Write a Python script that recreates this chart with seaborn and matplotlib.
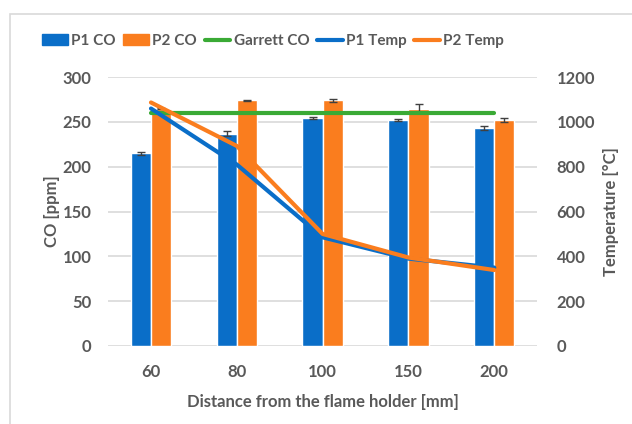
import numpy as np
import pandas as pd
import matplotlib
matplotlib.use("Agg")
import matplotlib.pyplot as plt
import seaborn as sns
from matplotlib.patches import Patch, Rectangle
from matplotlib.lines import Line2D

# --- data ---
distances = ["60", "80", "100", "150", "200"]
p1_co = [215, 237, 254, 252, 243]
p2_co = [265, 274, 274, 265, 252]
p1_co_err = [1.5, 3, 1, 1, 2]
p2_co_err = [1, 1, 1.5, 5, 2]
garrett_co = [260, 260, 260, 260, 260]
p1_temp = [1060, 810, 485, 390, 350]
p2_temp = [1087, 893, 500, 395, 339]

BLUE = "#0A6EC8"
ORANGE = "#FA7D1E"
GREEN = "#3AAA35"
TEXT = "#595959"
GRID = "#D9D9D9"

sns.set_theme(style="white")
plt.rcParams["font.family"] = ["Lato", "DejaVu Sans"]

df = pd.DataFrame({
    "distance": distances * 2,
    "co": p1_co + p2_co,
    "series": ["P1 CO"] * len(distances) + ["P2 CO"] * len(distances),
})

fig = plt.figure(figsize=(6.32, 4.24), dpi=100)
ax = fig.add_axes([0.171, 0.184, 0.679, 0.634])

sns.barplot(data=df, x="distance", y="co", hue="series", order=distances,
            palette=[BLUE, ORANGE], width=0.47, errorbar=None, saturation=1,
            ax=ax, legend=False, zorder=2)

# error bars on top of each bar
errs = p1_co_err + p2_co_err
for bar, e in zip(ax.patches[:len(errs)], errs):
    ax.errorbar(bar.get_x() + bar.get_width() / 2, bar.get_height(), yerr=e,
                fmt="none", ecolor="#404040", elinewidth=1, capsize=3, zorder=3)

xs = np.arange(len(distances))
ax.plot(xs, garrett_co, color=GREEN, lw=3, zorder=4)

ax.set_ylim(0, 300)
ax.set_yticks(np.arange(0, 301, 50))
ax.set_xlim(-0.5, len(distances) - 0.5)
ax.yaxis.grid(True, color=GRID, lw=1.2, zorder=0)
ax.set_axisbelow(True)
for s in ax.spines.values():
    s.set_visible(False)
ax.tick_params(axis="y", length=0, labelsize=12, colors=TEXT, pad=12)
ax.tick_params(axis="x", length=0, labelsize=12, colors=TEXT, pad=13)
for lbl in ax.get_xticklabels() + ax.get_yticklabels():
    lbl.set_fontweight("bold")
ax.set_xlabel("Distance from the flame holder [mm]", fontsize=12, color=TEXT,
              fontweight="bold", labelpad=10)
ax.set_ylabel("CO [ppm]", fontsize=12, color=TEXT, fontweight="bold", labelpad=2)

ax2 = ax.twinx()
ax2.plot(xs, p1_temp, color=BLUE, lw=3, zorder=5)
ax2.plot(xs, p2_temp, color=ORANGE, lw=3, zorder=5)
ax2.set_ylim(0, 1200)
ax2.set_yticks(np.arange(0, 1201, 200))
for s in ax2.spines.values():
    s.set_visible(False)
ax2.tick_params(length=0, labelsize=12, colors=TEXT, pad=14)
for lbl in ax2.get_yticklabels():
    lbl.set_fontweight("bold")
ax2.set_ylabel("Temperature [°C]", fontsize=12, color=TEXT, fontweight="bold",
               labelpad=6)

handles = [
    Patch(color=BLUE, label="P1 CO"),
    Patch(color=ORANGE, label="P2 CO"),
    Line2D([], [], color=GREEN, lw=3, label="Garrett CO"),
    Line2D([], [], color=BLUE, lw=3, label="P1 Temp"),
    Line2D([], [], color=ORANGE, lw=3, label="P2 Temp"),
]
leg = fig.legend(handles=handles, loc="center", bbox_to_anchor=(0.432, 0.903),
                 ncol=5, frameon=False, fontsize=11, handlelength=1.7,
                 handletextpad=0.2, columnspacing=0.5)
for t in leg.get_texts():
    t.set_color(TEXT)
    t.set_fontweight("bold")

# light chart-area border
fig.patches.append(Rectangle((0.016, -0.05), 1.05, 1.017, transform=fig.transFigure,
                             fill=False, edgecolor="#D9D9D9", lw=1.2))

fig.savefig("out.png", dpi=100)
